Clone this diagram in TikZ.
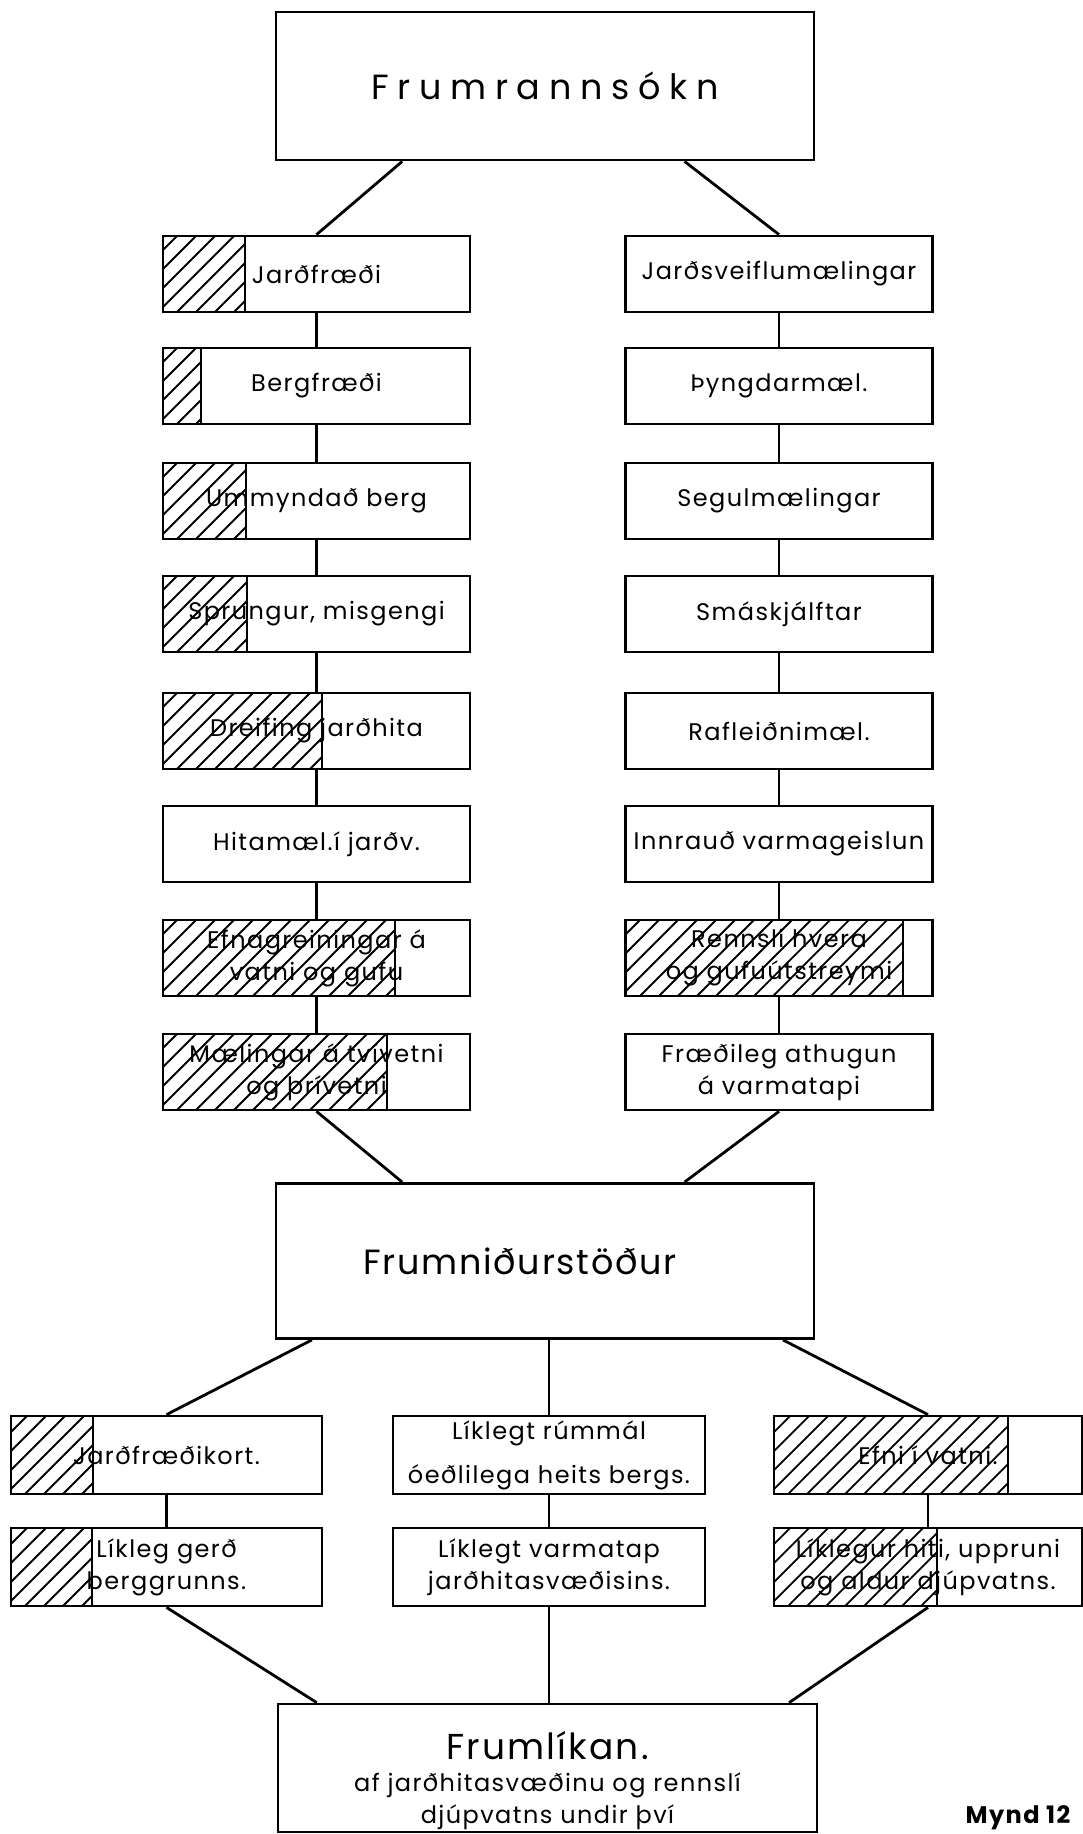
\documentclass[tikz,border=0pt]{standalone}
\usepackage{fontspec}
\setmainfont{Poppins}[LetterSpace=6]
\newfontfamily\widetitle{Poppins}[LetterSpace=25]
\newfontfamily\midtitle{Poppins}[LetterSpace=5]
\usetikzlibrary{calc}
\tikzset{
  box/.style={draw, line width=2.8pt, inner sep=0pt, align=center,
    font=\fontsize{24}{32}\selectfont},
  colbox/.style={box, minimum width=307pt, minimum height=76pt},
  botbox/.style={box, minimum width=310pt, minimum height=78pt},
  bigbox/.style={box, minimum width=538pt},
  conn/.style={line width=2.8pt},
  hatchline/.style={line width=1.8pt},
  divline/.style={line width=2pt},
}
\newcommand\hatchfill[4]{%
  \begin{scope}
    \clip (#1,#2) rectangle (#3,#4);
    \foreach \k in {0,19,...,420} \draw[hatchline] ({#1-100+\k},#4) -- ++(100,-100);
  \end{scope}
  \draw[divline] (#3,#2) -- (#3,#4);
}
\begin{document}
\begin{tikzpicture}[x=1pt,y=-1pt]
\useasboundingbox (0,0) rectangle (1083,1834);
\clip (0,0) rectangle (1083,1834);
\fill[white] (0,0) rectangle (1083,1834);

% hatched parts
\hatchfill{163}{236}{245}{312}
\hatchfill{163}{348}{201}{424}
\hatchfill{163}{463}{246}{539}
\hatchfill{163}{576}{247}{652}
\hatchfill{163}{693}{322}{769}
\hatchfill{163}{920}{395}{996}
\hatchfill{163}{1034}{387}{1110}
\hatchfill{626}{920}{903}{996}
\hatchfill{11}{1416}{93}{1494}
\hatchfill{11}{1528}{92}{1606}
\hatchfill{774}{1416}{1008}{1494}
\hatchfill{774}{1528}{937}{1606}

% top box
\node[bigbox, minimum height=148pt, font=\fontsize{35}{40}\widetitle] (top) at (545,86) {Frumrannsókn};

% left column
\node[colbox] (L1) at (316.5,274) {Jarðfræði};
\node[colbox] (L2) at (316.5,386) {Bergfræði};
\node[colbox] (L3) at (316.5,501) {Ummyndað berg};
\node[colbox] (L4) at (316.5,614) {Sprungur, misgengi};
\node[colbox] (L5) at (316.5,731) {Dreifing jarðhita};
\node[colbox] (L6) at (316.5,844) {Hitamæl.í jarðv.};
\node[colbox] (L7) at (316.5,958) {Efnagreiningar á\\vatni og gufu};
\node[colbox] (L8) at (316.5,1072) {Mælingar á tvívetni\\og þrívetni};

% right column
\node[colbox] (R1) at (779,274) {Jarðsveiflumælingar};
\node[colbox] (R2) at (779,386) {Þyngdarmæl.};
\node[colbox] (R3) at (779,501) {Segulmælingar};
\node[colbox] (R4) at (779,614) {Smáskjálftar};
\node[colbox] (R5) at (779,731) {Rafleiðnimæl.};
\node[colbox] (R6) at (779,844) {Innrauð varmageislun};
\node[colbox] (R7) at (779,958) {Rennsli hvera\\og gufuútstreymi};
\node[colbox] (R8) at (779,1072) {Fræðileg athugun\\á varmatapi};

% middle box
\node[bigbox, minimum height=155pt, font=\fontsize{35}{40}\midtitle] (mid) at (545,1261) {Frumniðurstöður\hspace*{50pt}};

% bottom rows
\node[botbox, minimum width=311pt] (BL1) at (166.5,1455) {Jarðfræðikort.};
\node[botbox, minimum width=311pt] (BL2) at (166.5,1567) {Líkleg gerð\\berggrunns.};
\node[botbox, minimum width=312pt, font=\fontsize{24}{44}\selectfont] (BM1) at (549,1455) {Líklegt rúmmál\\óeðlilega heits bergs.};
\node[botbox, minimum width=312pt] (BM2) at (549,1567) {Líklegt varmatap\\jarðhitasvæðisins.};
\node[botbox, minimum width=308pt] (BR1) at (928,1455) {Efni í vatni.};
\node[botbox, minimum width=308pt] (BR2) at (928,1567) {Líklegur hiti, uppruni\\og aldur djúpvatns.};

% final box
\node[box, minimum width=539pt, minimum height=128pt] (fin) at (547.5,1768) {};
\node[align=center, inner sep=0pt, font=\fontsize{24}{34}\selectfont] (fintext) at (547.5,1781)
  {{\fontsize{36}{40}\selectfont Frumlíkan.}\\[-2pt]af jarðhitasvæðinu og rennslí\\[-2pt]djúpvatns undir því};

\node[font=\fontsize{24}{28}\selectfont\bfseries] (mynd) at (1018,1818) {Mynd 12};

% connectors
\draw[conn] ($(top.south west)!0.236!(top.south east)$) -- (L1.north);
\draw[conn] ($(top.south west)!0.758!(top.south east)$) -- (R1.north);
\foreach \a/\b in {L1/L2,L2/L3,L3/L4,L4/L5,L5/L6,L6/L7,L7/L8,R1/R2,R2/R3,R3/R4,R4/R5,R5/R6,R6/R7,R7/R8}
  \draw[conn] (\a.south) -- (\b.north);
\draw[conn] (L8.south) -- ($(mid.north west)!0.236!(mid.north east)$);
\draw[conn] (R8.south) -- ($(mid.north west)!0.758!(mid.north east)$);
\draw[conn] ($(mid.south west)!0.069!(mid.south east)$) -- (BL1.north);
\draw[conn] (BM1.north |- mid.south) -- (BM1.north);
\draw[conn] ($(mid.south west)!0.94!(mid.south east)$) -- (BR1.north);
\draw[conn] (BL1.south) -- (BL2.north);
\draw[conn] (BM1.south) -- (BM2.north);
\draw[conn] (BR1.south) -- (BR2.north);
\draw[conn] (BL2.south) -- ($(fin.north west)!0.074!(fin.north east)$);
\draw[conn] (BM2.south) -- (BM2.south |- fin.north);
\draw[conn] (BR2.south) -- ($(fin.north west)!0.946!(fin.north east)$);
\end{tikzpicture}
\end{document}
